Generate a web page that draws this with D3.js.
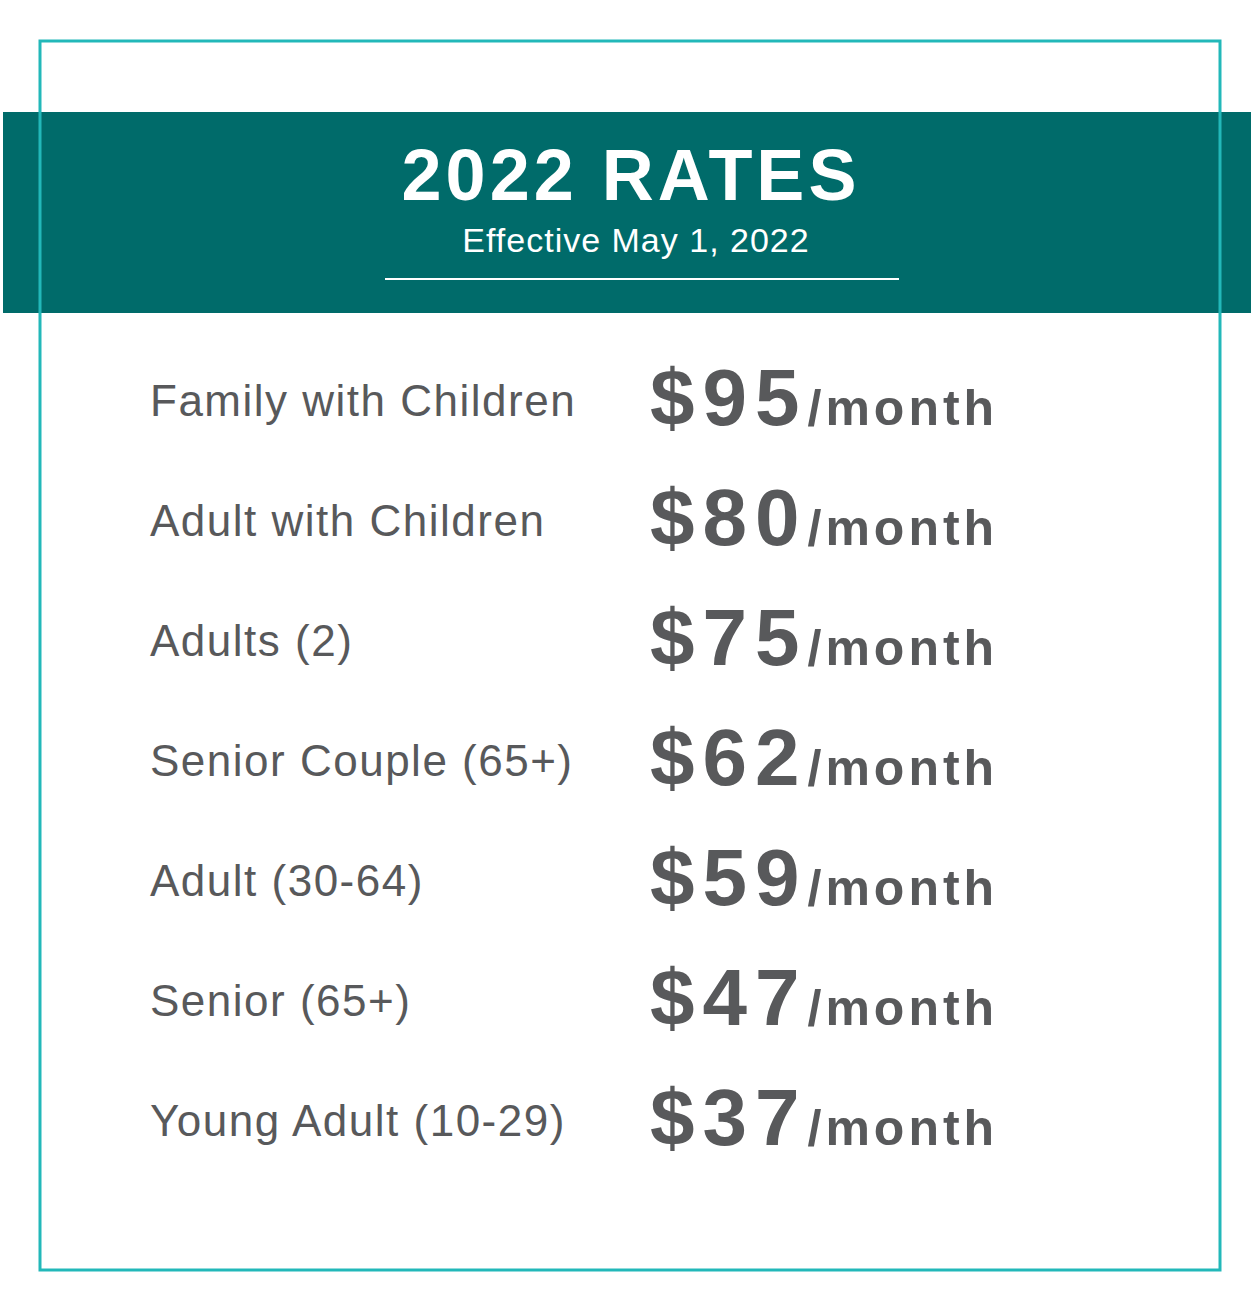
<!DOCTYPE html>
<html><head><meta charset="utf-8">
<script src="https://cdn.jsdelivr.net/npm/d3@7"></script>
<style>body{margin:0;background:#fff}</style>
</head><body><div id="chart"></div>
<script>
var categories = ["Family with Children","Adult with Children","Adults (2)","Senior Couple (65+)","Adult (30-64)","Senior (65+)","Young Adult (10-29)"];
var rates = [95, 80, 75, 62, 59, 47, 37];
var title = "2022 RATES";
var subtitle = "Effective May 1, 2022";

var width = 1252, height = 1307;
var svg = d3.select("#chart").append("svg").attr("width", width).attr("height", height);

// header band
svg.append("rect").attr("x", 3).attr("y", 112).attr("width", 1248).attr("height", 201).attr("fill", "#006b6a");
// outer frame
svg.append("rect").attr("x", 40).attr("y", 41).attr("width", 1180).attr("height", 1229)
  .attr("fill", "none").attr("stroke", "#22b8b9").attr("stroke-width", 3);

svg.append("text").attr("x", 631).attr("y", 200).attr("text-anchor", "middle")
  .attr("fill", "#fff").style("font-family", "Liberation Sans, Arial").style("font-weight", "bold")
  .style("font-size", "72px").style("letter-spacing", "4px").text(title);
svg.append("text").attr("x", 636).attr("y", 252).attr("text-anchor", "middle")
  .attr("fill", "#fff").style("font-family", "Liberation Sans, Arial")
  .style("font-size", "34px").style("letter-spacing", "1px").text(subtitle);
svg.append("line").attr("x1", 385).attr("x2", 899).attr("y1", 279).attr("y2", 279)
  .attr("stroke", "#fff").attr("stroke-width", 2);

var y = d3.scaleBand().domain(categories).range([341, 1181]);

var rows = svg.selectAll(".row").data(categories).enter().append("g")
  .attr("transform", function(d) { return "translate(0," + (y(d) + y.bandwidth() / 2) + ")"; });

rows.append("text").attr("x", 150).attr("y", 15)
  .attr("fill", "#58595b").style("font-family", "Liberation Sans, Arial")
  .style("font-size", "44px").style("letter-spacing", "1.5px").text(function(d) { return d; });

var price = rows.append("text").attr("x", 650).attr("y", 24)
  .attr("fill", "#58595b").style("font-family", "Liberation Sans, Arial").style("font-weight", "bold");
price.append("tspan").style("font-size", "80px").style("letter-spacing", "8px")
  .text(function(d, i) { return "$" + rates[i]; });
price.append("tspan").style("font-size", "50px").style("letter-spacing", "4px").text("/month");
</script></body></html>
